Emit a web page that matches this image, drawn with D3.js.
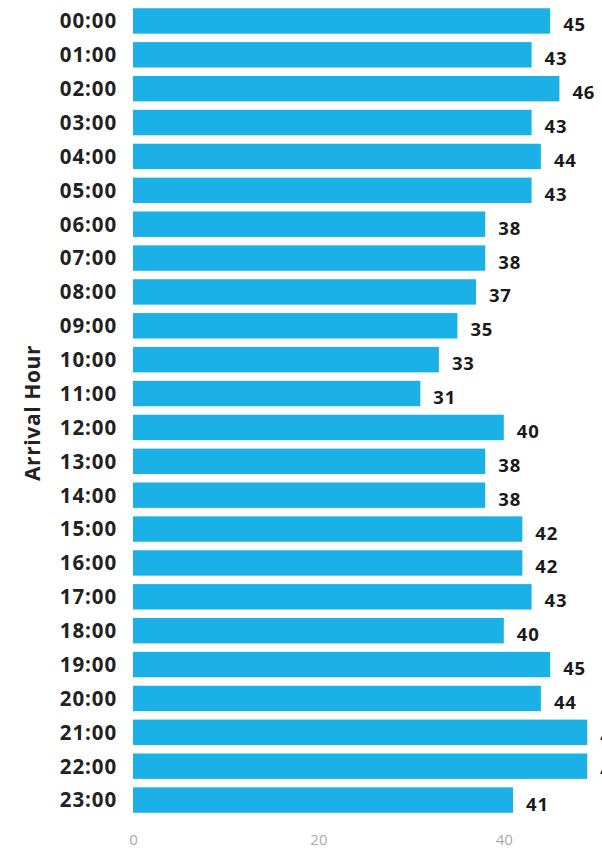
<!DOCTYPE html>
<html>
<head>
<meta charset="utf-8">
<script src="https://cdn.jsdelivr.net/npm/d3@7/dist/d3.min.js"></script>
<style>
  html, body { margin: 0; padding: 0; background: #fff; }
  svg { display: block; }
</style>
</head>
<body>
<div id="chart"></div>
<script>
// Arrivals per hour of day
const hours = ["00:00","01:00","02:00","03:00","04:00","05:00","06:00","07:00",
  "08:00","09:00","10:00","11:00","12:00","13:00","14:00","15:00",
  "16:00","17:00","18:00","19:00","20:00","21:00","22:00","23:00"];
const arrivals = [45,43,46,43,44,43,38,38,37,35,33,31,40,38,38,42,42,43,40,45,44,49,49,41];
const xTicks = [0, 20, 40];

const width = 602, height = 853;
const margin = { left: 133, top: 8 };
const font = "Open Sans, sans-serif";

const svg = d3.select("#chart").append("svg")
  .attr("width", width).attr("height", height);

const x = d3.scaleLinear().domain([0, 20]).range([margin.left, margin.left + 185.4]);

const y = d3.scaleBand()
  .domain(hours)
  .range([margin.top - 4, 817])
  .paddingInner(0.25)
  .paddingOuter(0.125);

// bars
svg.append("g").selectAll("rect")
  .data(hours)
  .join("rect")
  .attr("x", x(0))
  .attr("y", d => y(d))
  .attr("width", (d, i) => x(arrivals[i]) - x(0))
  .attr("height", y.bandwidth())
  .attr("fill", "#1bb0e6");

// value labels
svg.append("g").selectAll("text")
  .data(hours)
  .join("text")
  .attr("x", (d, i) => x(arrivals[i]) + 13)
  .attr("y", d => y(d) + y.bandwidth() / 2 + 10.5)
  .attr("font-family", font)
  .attr("font-weight", 700)
  .attr("font-size", 18.5)
  .attr("letter-spacing", 0.8)
  .attr("fill", "#1a1a1a")
  .text((d, i) => arrivals[i]);

// category axis
const yAxis = svg.append("g")
  .attr("transform", `translate(${margin.left - 16},0)`)
  .call(d3.axisLeft(y).tickSize(0).tickPadding(0));
yAxis.select(".domain").remove();
yAxis.selectAll("text")
  .attr("font-family", font)
  .attr("font-weight", 700)
  .attr("font-size", 20.5)
  .attr("letter-spacing", 0.9)
  .attr("fill", "#222")
  .attr("dy", "0.36em");

// value axis
const xAxis = svg.append("g")
  .attr("transform", `translate(0,${830})`)
  .call(d3.axisBottom(x).tickValues(xTicks).tickSize(0).tickPadding(4));
xAxis.select(".domain").remove();
xAxis.selectAll("text")
  .attr("font-family", font)
  .attr("font-size", 15)
  .attr("fill", "#aaa");

// axis title
svg.append("text")
  .attr("transform", `translate(40,${413}) rotate(-90)`)
  .attr("text-anchor", "middle")
  .attr("font-family", font)
  .attr("font-weight", 700)
  .attr("font-size", 21)
  .attr("letter-spacing", 0.6)
  .attr("fill", "#222")
  .text("Arrival Hour");
</script>
</body>
</html>
